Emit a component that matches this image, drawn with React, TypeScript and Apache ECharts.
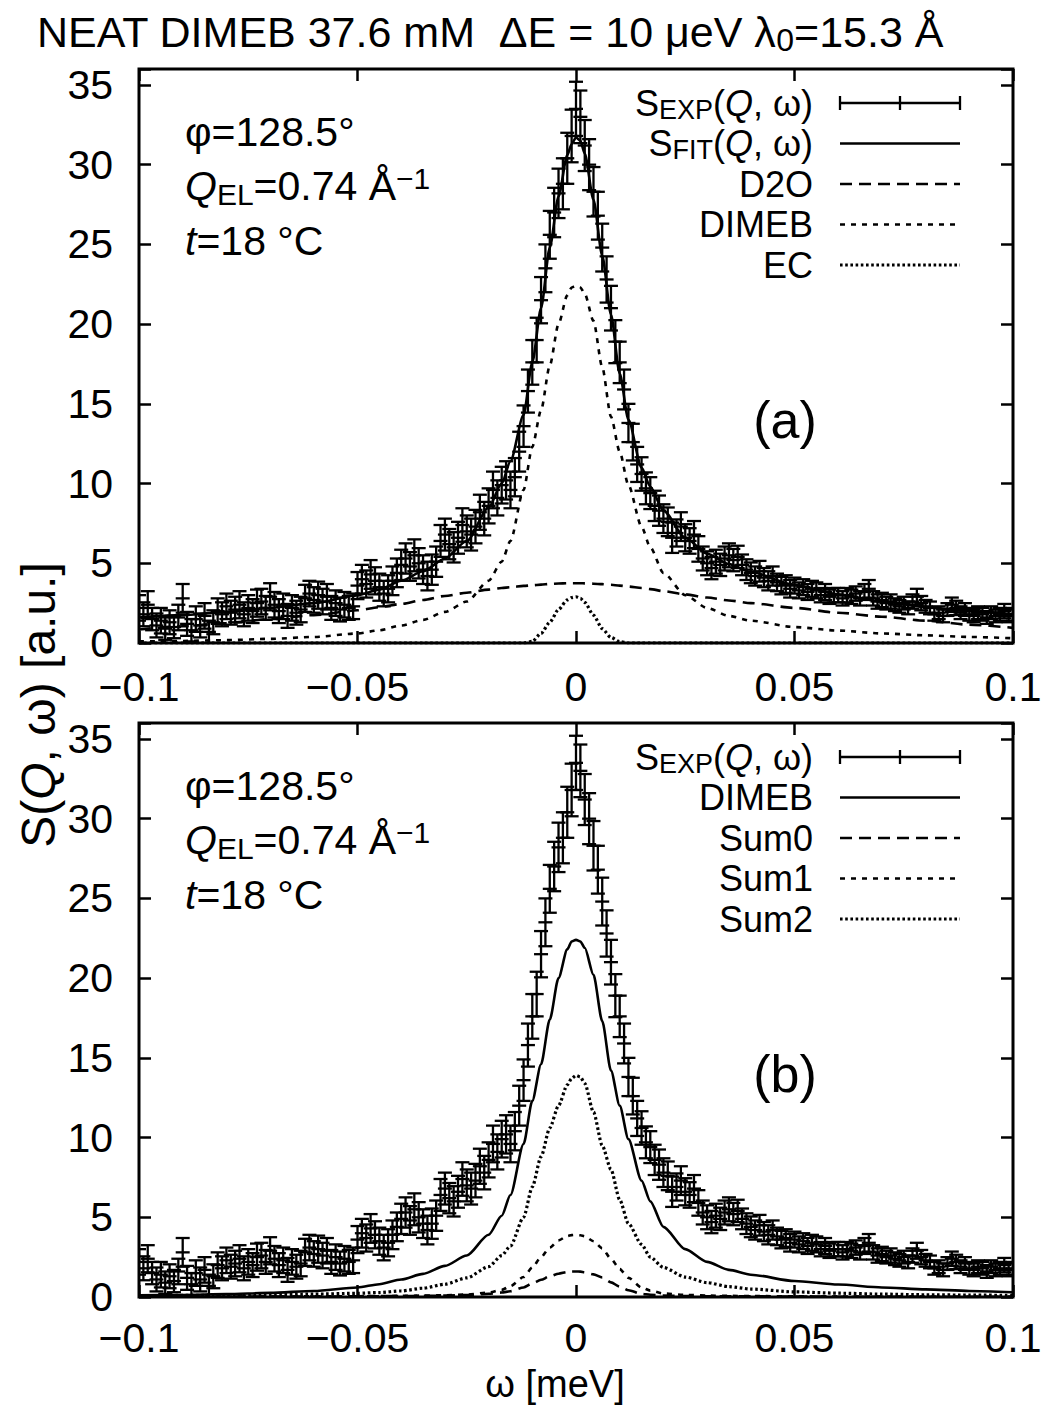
import React, { useEffect, useRef } from "react";
import * as echarts from "echarts";

// ---------- DATA (energy transfer in µeV, intensity in a.u.) ----------
const omega = [
  -100, -99, -98, -97, -96, -95, -94, -93, -92, -91,
  -90, -89, -88, -87, -86, -85, -84, -83, -82, -81,
  -80, -79, -78, -77, -76, -75, -74, -73, -72, -71,
  -70, -69, -68, -67, -66, -65, -64, -63, -62, -61,
  -60, -59, -58, -57, -56, -55, -54, -53, -52, -51,
  -50, -49, -48, -47, -46, -45, -44, -43, -42, -41,
  -40, -39, -38, -37, -36, -35, -34, -33, -32, -31,
  -30, -29, -28, -27, -26, -25, -24, -23, -22, -21,
  -20, -19, -18, -17, -16, -15, -14, -13, -12, -11,
  -10, -9, -8, -7, -6, -5, -4, -3, -2, -1,
  0,
  1, 2, 3, 4, 5, 6, 7, 8, 9, 10,
  11, 12, 13, 14, 15, 16, 17, 18, 19, 20,
  21, 22, 23, 24, 25, 26, 27, 28, 29, 30,
  31, 32, 33, 34, 35, 36, 37, 38, 39, 40,
  41, 42, 43, 44, 45, 46, 47, 48, 49, 50,
  51, 52, 53, 54, 55, 56, 57, 58, 59, 60,
  61, 62, 63, 64, 65, 66, 67, 68, 69, 70,
  71, 72, 73, 74, 75, 76, 77, 78, 79, 80,
  81, 82, 83, 84, 85, 86, 87, 88, 89, 90,
  91, 92, 93, 94, 95, 96, 97, 98, 99, 100,
];

const sExp = [
  2.2, 1.8, 2.4, 1.5, 1.1, 1.4, 0.9, 1.3, 1.0, 1.6,
  2.8, 1.2, 0.8, 1.5, 1.1, 1.7, 0.7, 1.3, 2.0, 1.8,
  2.3, 1.9, 2.1, 2.4, 1.8, 2.2, 2.0, 2.5, 2.6, 2.2,
  2.9, 2.4, 2.0, 2.3, 1.7, 2.2, 1.9, 2.1, 2.8, 3.1,
  2.7, 3.0, 2.6, 2.9, 2.2, 2.5, 2.1, 2.4, 2.2, 2.3,
  3.6, 4.0, 3.7, 4.3, 3.9, 3.5, 3.1, 3.4, 3.9, 4.4,
  4.9, 5.3, 4.8, 5.5, 5.0, 4.6, 4.2, 4.6, 5.1, 6.4,
  6.8, 6.2, 6.0, 6.6, 7.4, 7.0, 6.8, 7.3, 8.2, 7.8,
  8.6, 9.6, 9.1, 9.9, 10.2, 9.6, 10.4, 12.0, 13.6, 15.8,
  17.6, 19.0, 21.5, 23.5, 25.6, 27.0, 28.2, 28.8, 30.4, 31.8,
  33.5,
  33.0, 31.2, 30.0, 28.3, 26.8, 24.8, 22.8, 21.0, 18.9, 17.6,
  15.9, 13.8, 12.6, 11.2, 10.6, 9.7, 9.4, 8.6, 8.3, 7.8,
  7.6, 6.6, 6.9, 7.3, 6.6, 6.4, 6.8, 5.9, 5.3, 5.0,
  4.7, 5.1, 4.9, 5.3, 5.5, 5.2, 5.4, 4.9, 4.6, 4.4,
  4.2, 4.5, 4.1, 3.9, 4.2, 3.8, 3.6, 3.7, 3.4, 3.6,
  3.3, 3.5, 3.2, 3.4, 3.3, 3.0, 3.2, 2.9, 3.0, 3.0,
  2.8, 3.0, 2.9, 3.1, 2.8, 3.2, 3.4, 2.8, 2.6, 2.7,
  2.5, 2.6, 2.4, 2.3, 2.5, 2.2, 2.6, 2.9, 2.5, 2.3,
  2.2, 1.8, 1.9, 1.7, 2.1, 2.4, 2.2, 1.9, 2.1, 1.8,
  1.7, 1.9, 1.8, 1.6, 1.9, 1.7, 1.8, 2.0, 1.7, 1.8,
];

const sExpErr = [
  0.8, 0.75, 0.85, 0.7, 0.75, 0.8, 0.7, 0.75, 0.7, 0.8,
  0.9, 0.75, 0.7, 0.8, 0.75, 0.8, 0.7, 0.75, 0.8, 0.75,
  0.8, 0.75, 0.8, 0.85, 0.75, 0.8, 0.75, 0.85, 0.8, 0.75,
  0.85, 0.8, 0.75, 0.8, 0.75, 0.8, 0.75, 0.8, 0.85, 0.8,
  0.8, 0.85, 0.8, 0.8, 0.75, 0.8, 0.75, 0.8, 0.75, 0.8,
  0.85, 0.9, 0.85, 0.9, 0.85, 0.85, 0.8, 0.85, 0.9, 0.9,
  0.95, 0.95, 0.9, 1.0, 0.95, 0.9, 0.9, 0.95, 0.95, 1.0,
  1.0, 0.95, 0.95, 1.0, 1.05, 1.0, 1.0, 1.05, 1.1, 1.05,
  1.1, 1.15, 1.1, 1.15, 1.2, 1.15, 1.2, 1.25, 1.3, 1.35,
  1.4, 1.4, 1.45, 1.5, 1.5, 1.55, 1.55, 1.6, 1.6, 1.65,
  1.7,
  1.65, 1.6, 1.6, 1.55, 1.5, 1.5, 1.45, 1.4, 1.35, 1.3,
  1.25, 1.2, 1.15, 1.1, 1.05, 1.0, 1.0, 0.95, 0.95, 0.9,
  0.9, 0.95, 0.85, 0.9, 0.85, 0.8, 0.85, 0.8, 0.75, 0.75,
  0.7, 0.75, 0.7, 0.75, 0.75, 0.7, 0.7, 0.65, 0.65, 0.65,
  0.6, 0.65, 0.6, 0.6, 0.6, 0.55, 0.55, 0.55, 0.55, 0.5,
  0.5, 0.5, 0.5, 0.5, 0.5, 0.45, 0.5, 0.45, 0.45, 0.45,
  0.45, 0.45, 0.45, 0.45, 0.45, 0.5, 0.55, 0.45, 0.45, 0.45,
  0.4, 0.45, 0.4, 0.4, 0.4, 0.4, 0.45, 0.5, 0.45, 0.4,
  0.4, 0.4, 0.4, 0.4, 0.4, 0.45, 0.45, 0.4, 0.4, 0.4,
  0.4, 0.4, 0.4, 0.4, 0.4, 0.4, 0.4, 0.45, 0.4, 0.4,
];

// model curves, sampled at these energies (µeV)
const curveOmega = [
  -100, -90, -80, -70, -60, -50, -45, -40, -35, -30, -25, -20, -17, -15, -12, -10, -8, -6, -4, -2, -1,
  0, 1, 2, 4, 6, 8, 10, 12, 15, 17, 20, 25, 30, 35, 40, 50, 60, 70, 80, 90, 100,
];
const sFit = [
  1.6, 1.75, 1.95, 2.2, 2.5, 3.0, 3.35, 3.9, 4.5, 5.3, 6.4, 8.5, 10.0, 11.4, 14.3, 17.6, 21.0, 24.8, 28.0, 30.6, 31.3,
  31.7, 31.5, 30.7, 27.8, 24.3, 20.6, 16.9, 14.0, 11.0, 9.8, 8.3, 6.6, 5.6, 4.95, 4.45, 3.65, 3.05, 2.6, 2.25, 2.0, 1.8,
];
const d2o = [
  0.85, 1.05, 1.25, 1.5, 1.75, 2.05, 2.25, 2.45, 2.7, 2.95, 3.15, 3.35, 3.45, 3.5, 3.58, 3.62, 3.66, 3.7, 3.73, 3.75, 3.75,
  3.75, 3.75, 3.74, 3.72, 3.69, 3.65, 3.6, 3.54, 3.45, 3.38, 3.25, 3.05, 2.85, 2.67, 2.5, 2.2, 1.9, 1.65, 1.4, 1.15, 0.95,
];
const dimeb = [
  0.1, 0.13, 0.18, 0.26, 0.38, 0.6, 0.8, 1.1, 1.45, 1.95, 2.6, 3.9, 5.1, 6.4, 9.6, 12.3, 14.6, 17.4, 20.0, 21.8, 22.3,
  22.4, 22.3, 21.9, 20.2, 17.3, 14.2, 12.0, 9.9, 7.3, 6.0, 4.4, 3.0, 2.2, 1.7, 1.4, 1.0, 0.78, 0.6, 0.48, 0.38, 0.3,
];
const ec = [
  0, 0, 0, 0, 0, 0, 0, 0, 0, 0, 0, 0, 0, 0, 0, 0.1, 0.6, 1.3, 2.1, 2.7, 2.85,
  2.9, 2.8, 2.55, 1.75, 0.9, 0.35, 0.08, 0, 0, 0, 0, 0, 0, 0, 0, 0, 0, 0, 0, 0, 0,
];
const sum0 = [
  0.02, 0.02, 0.02, 0.03, 0.03, 0.04, 0.05, 0.06, 0.07, 0.09, 0.12, 0.2, 0.28, 0.36, 0.6, 0.85, 1.08, 1.3, 1.46, 1.57, 1.6,
  1.6, 1.59, 1.55, 1.42, 1.22, 0.92, 0.65, 0.42, 0.2, 0.14, 0.09, 0.06, 0.05, 0.04, 0.04, 0.03, 0.02, 0.02, 0.02, 0.01, 0.01,
];
const sum1 = [
  0.02, 0.02, 0.03, 0.03, 0.04, 0.05, 0.06, 0.07, 0.09, 0.11, 0.15, 0.28, 0.45, 0.68, 1.25, 1.85, 2.5, 3.1, 3.55, 3.82, 3.88,
  3.9, 3.87, 3.8, 3.5, 3.05, 2.4, 1.75, 1.2, 0.6, 0.4, 0.22, 0.13, 0.09, 0.07, 0.06, 0.04, 0.03, 0.03, 0.02, 0.02, 0.02,
];
const sum2 = [
  0.08, 0.1, 0.12, 0.15, 0.18, 0.23, 0.28, 0.38, 0.55, 0.8, 1.2, 1.9, 2.6, 3.2, 5.0, 6.9, 8.8, 10.6, 12.0, 13.3, 13.7,
  13.9, 13.8, 13.4, 11.6, 9.5, 8.0, 6.1, 4.6, 3.3, 2.5, 1.85, 1.25, 0.9, 0.65, 0.5, 0.32, 0.24, 0.18, 0.14, 0.12, 0.1,
];

const yTicks = [0, 5, 10, 15, 20, 25, 30, 35];
const legendA = ["{n|S}{sub|EXP}{n|(}{it|Q}{n|, ω)}", "{n|S}{sub|FIT}{n|(}{it|Q}{n|, ω)}", "{n|D2O}", "{n|DIMEB}", "{n|EC}"];
const legendB = ["{n|S}{sub|EXP}{n|(}{it|Q}{n|, ω)}", "{n|DIMEB}", "{n|Sum0}", "{n|Sum1}", "{n|Sum2}"];

// ---------- STYLE ----------
const FONT = "'Liberation Sans', Arial, Helvetica, sans-serif";
const FS = 41;
const LEG_FS = 36;
const LW = 2.6;
const DASH_LONG = [12, 7];
const DASH_SHORT = [5, 6];
const DOT = [2.6, 2.6];

const GRID_LEFT = 139;
const GRID_W = 874;
const GRID_H = 574;
const GRID_TOPS = [69, 723];
const X_LABEL_MARGIN = [23, 20];

function makeRich(fs: number) {
  const sfs = Math.round(fs * 0.74);
  return {
    n: { fontSize: fs, fontFamily: FONT, lineHeight: Math.round(fs * 1.12), verticalAlign: "middle" },
    it: { fontSize: fs, fontFamily: FONT, fontStyle: "italic", lineHeight: Math.round(fs * 1.12), verticalAlign: "middle" },
    sub: { fontSize: sfs, fontFamily: FONT, lineHeight: Math.round(fs * 0.5), verticalAlign: "bottom" },
    sup: { fontSize: sfs, fontFamily: FONT, lineHeight: Math.round(fs * 0.5), verticalAlign: "top" },
  };
}
const rich = makeRich(FS);
const legRich = makeRich(LEG_FS);

function fmtX(v: number) {
  const r = Math.round(v * 1000) / 1000;
  if (r === 0) return "0";
  return (r < 0 ? "\u2212" : "") + String(Math.abs(r));
}

function curve(vals: number[]) {
  return curveOmega.map((w, i) => [w / 1000, vals[i]]);
}

function errRender(params: any, api: any) {
  const x = api.value(0);
  const y = api.value(1);
  const e = api.value(2);
  const c = api.coord([x, y]);
  const t = api.coord([x, y + e]);
  const b = api.coord([x, y - e]);
  const hw = 7;
  const style = { stroke: "#000", lineWidth: 2.3, fill: null };
  return {
    type: "group",
    children: [
      { type: "line", shape: { x1: c[0], y1: t[1], x2: c[0], y2: b[1] }, style },
      { type: "line", shape: { x1: c[0] - hw, y1: t[1], x2: c[0] + hw, y2: t[1] }, style },
      { type: "line", shape: { x1: c[0] - hw, y1: b[1], x2: c[0] + hw, y2: b[1] }, style },
      { type: "line", shape: { x1: c[0] - hw, y1: c[1], x2: c[0] + hw, y2: c[1] }, style },
    ],
  };
}

function lineSeries(name: string, vals: number[], axis: number, type: any) {
  const dotted = type === DOT;
  return {
    name,
    type: "line",
    xAxisIndex: axis,
    yAxisIndex: axis,
    data: curve(vals),
    showSymbol: false,
    symbol: "none",
    smooth: 0.25,
    smoothMonotone: "x",
    clip: true,
    silent: true,
    z: 3,
    lineStyle: { color: "#000", width: dotted ? 3.2 : LW, type, cap: "butt" },
  };
}

function legendGraphics(top: number, labels: string[], types: any[]) {
  const els: any[] = [];
  const x0 = 840;
  const x1 = 960;
  labels.forEach((lab, i) => {
    const y = top + 34 + i * 40.5;
    els.push({
      type: "text",
      x: 813,
      y,
      style: {
        text: lab,
        fontSize: LEG_FS,
        fontFamily: FONT,
        fill: "#000",
        align: "right",
        verticalAlign: "middle",
        rich: legRich,
      },
    });
    const dash = i === 0 || types[i] === "solid" ? null : types[i];
    const st = { stroke: "#000", lineWidth: i === 0 ? 2.3 : dash === DOT ? 3.2 : LW, lineDash: dash };
    els.push({ type: "line", shape: { x1: x0, y1: y, x2: x1, y2: y }, style: st });
    if (i === 0) {
      [x0, (x0 + x1) / 2, x1].forEach((xx) => {
        els.push({ type: "line", shape: { x1: xx, y1: y - 7, x2: xx, y2: y + 7 }, style: { stroke: "#000", lineWidth: 2.3 } });
      });
    }
  });
  return els;
}

function annotGraphics(top: number, letter: string) {
  const base = { fontSize: FS, fontFamily: FONT, fill: "#000", align: "left", verticalAlign: "middle", rich };
  return [
    { type: "text", x: 185, y: top + 63, style: { ...base, text: "{n|φ=128.5°}" } },
    { type: "text", x: 185, y: top + 117, style: { ...base, text: "{it|Q}{sub|EL}{n|=0.74 Å}{sup|\u22121}" } },
    { type: "text", x: 185, y: top + 172, style: { ...base, text: "{it|t}{n|=18 °C}" } },
    {
      type: "text",
      x: 785,
      y: top + 351,
      style: { text: letter, fontSize: 52, fontFamily: FONT, fill: "#000", align: "center", verticalAlign: "middle" },
    },
  ];
}

export default function App() {
  const ref = useRef<HTMLDivElement>(null);

  useEffect(() => {
    document.body.style.margin = "0";
    if (!ref.current) return;
    const chart = echarts.init(ref.current, null, { renderer: "svg" });

    const grids = GRID_TOPS.map((t) => ({
      left: GRID_LEFT,
      top: t,
      width: GRID_W,
      height: GRID_H,
      show: true,
      borderColor: "#000",
      borderWidth: 3,
      backgroundColor: "transparent",
    }));

    const xAxes: any[] = [];
    const yAxes: any[] = [];
    GRID_TOPS.forEach((_, g) => {
      ["bottom", "top"].forEach((pos) => {
        xAxes.push({
          type: "value",
          gridIndex: g,
          position: pos,
          min: -0.1,
          max: 0.1,
          interval: 0.05,
          axisLine: { show: false, onZero: false },
          splitLine: { show: false },
          axisTick: { show: true, inside: true, length: 12, lineStyle: { color: "#000", width: 2.5 } },
          axisLabel: {
            show: pos === "bottom",
            formatter: fmtX,
            color: "#000",
            fontSize: FS,
            fontFamily: FONT,
            margin: X_LABEL_MARGIN[g],
          },
        });
      });
      ["left", "right"].forEach((pos) => {
        yAxes.push({
          type: "value",
          gridIndex: g,
          position: pos,
          min: 0,
          max: 36,
          interval: 5,
          axisLine: { show: false, onZero: false },
          splitLine: { show: false },
          axisTick: { show: true, inside: true, length: 12, lineStyle: { color: "#000", width: 2.5 } },
          axisLabel: {
            show: pos === "left",
            formatter: (v: number) => (yTicks.indexOf(v) >= 0 ? String(v) : ""),
            color: "#000",
            fontSize: FS,
            fontFamily: FONT,
            margin: 26,
          },
        });
      });
    });

    const expData = omega.map((w, i) => [w / 1000, sExp[i], sExpErr[i]]);

    const series: any[] = [
      // panel (a)
      {
        name: "S_EXP(Q, ω) a",
        type: "custom",
        xAxisIndex: 0,
        yAxisIndex: 0,
        data: expData,
        renderItem: errRender,
        encode: { x: 0, y: 1 },
        clip: true,
        silent: true,
        z: 4,
      },
      lineSeries("S_FIT(Q, ω)", sFit, 0, "solid"),
      lineSeries("D2O", d2o, 0, DASH_LONG),
      lineSeries("DIMEB a", dimeb, 0, DASH_SHORT),
      lineSeries("EC", ec, 0, DOT),
      // panel (b)
      {
        name: "S_EXP(Q, ω) b",
        type: "custom",
        xAxisIndex: 2,
        yAxisIndex: 2,
        data: expData,
        renderItem: errRender,
        encode: { x: 0, y: 1 },
        clip: true,
        silent: true,
        z: 4,
      },
      lineSeries("DIMEB b", dimeb, 2, "solid"),
      lineSeries("Sum0", sum0, 2, DASH_LONG),
      lineSeries("Sum1", sum1, 2, DASH_SHORT),
      lineSeries("Sum2", sum2, 2, DOT),
    ];

    const titleRich = makeRich(43);
    const yNameRich = makeRich(48);

    const graphic: any[] = [
      {
        type: "text",
        x: 490,
        y: 32,
        style: {
          text: "{n|NEAT DIMEB 37.6 mM  ΔE = 10 μeV λ}{sub|0}{n|=15.3 Å}",
          fontSize: 43,
          fontFamily: FONT,
          fill: "#000",
          align: "center",
          verticalAlign: "middle",
          rich: titleRich,
        },
      },
      {
        type: "text",
        x: 38,
        y: 705,
        rotation: Math.PI / 2,
        style: {
          text: "{n|S(}{it|Q}{n|, ω) [a.u.]}",
          fontSize: 48,
          fontFamily: FONT,
          fill: "#000",
          align: "center",
          verticalAlign: "middle",
          rich: yNameRich,
        },
      },
      {
        type: "text",
        x: 555,
        y: 1384,
        style: {
          text: "ω [meV]",
          fontSize: 38,
          lineHeight: 34,
          fontFamily: FONT,
          fill: "#000",
          align: "center",
          verticalAlign: "middle",
        },
      },
      ...annotGraphics(GRID_TOPS[0], "(a)"),
      ...annotGraphics(GRID_TOPS[1], "(b)"),
      ...legendGraphics(GRID_TOPS[0], legendA, ["solid", "solid", DASH_LONG, DASH_SHORT, DOT]),
      ...legendGraphics(GRID_TOPS[1], legendB, ["solid", "solid", DASH_LONG, DASH_SHORT, DOT]),
    ];

    chart.setOption({
      animation: false,
      backgroundColor: "#fff",
      textStyle: { fontFamily: FONT },
      grid: grids,
      xAxis: xAxes,
      yAxis: yAxes,
      series,
      graphic,
    });

    return () => chart.dispose();
  }, []);

  return <div ref={ref} style={{ width: 1046, height: 1405 }} />;
}
